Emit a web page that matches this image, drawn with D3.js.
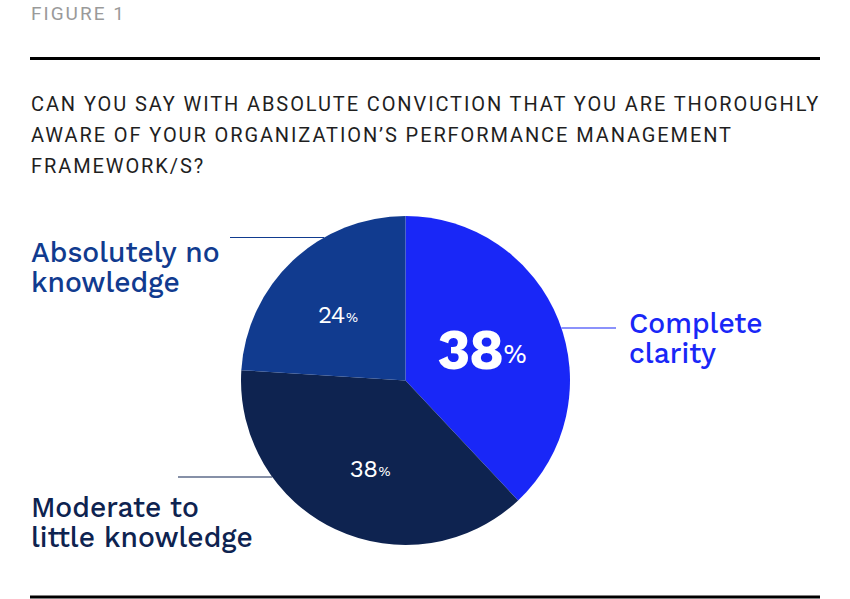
<!DOCTYPE html>
<html><head><meta charset="utf-8">
<script src="https://cdn.jsdelivr.net/npm/d3@7"></script>
<style>
html,body{margin:0;padding:0;background:#fff;}
svg{display:block;}
</style></head>
<body>
<svg id="chart" width="850" height="599"></svg>
<script>
const categories = ["Complete clarity", "Moderate to little knowledge", "Absolutely no knowledge"];
const values = [38, 38, 24];
const valueLabels = ["38", "38", "24"];
const labelLines = [["Complete", "clarity"], ["Moderate to", "little knowledge"], ["Absolutely no", "knowledge"]];
const colors = ["#1927f7", "#0e2350", "#113b8f"];
const figureLabel = "FIGURE 1";
const questionLines = [
  "CAN YOU SAY WITH ABSOLUTE CONVICTION THAT YOU ARE THOROUGHLY",
  "AWARE OF YOUR ORGANIZATION\u2019S PERFORMANCE MANAGEMENT",
  "FRAMEWORK/S?"
];

const svg = d3.select("#chart");
const cx = 405.5, cy = 380.5, R = 164.5;

// header
svg.append("text").attr("x", 31).attr("y", 20)
  .attr("font-family", "Roboto, 'Liberation Sans', sans-serif")
  .attr("font-size", 19).attr("fill", "#9a9a9a").attr("letter-spacing", 2)
  .text(figureLabel);
svg.append("line").attr("x1", 30).attr("x2", 820).attr("y1", 58.5).attr("y2", 58.5)
  .attr("stroke", "#000").attr("stroke-width", 3);
svg.append("line").attr("x1", 30).attr("x2", 820).attr("y1", 597).attr("y2", 597)
  .attr("stroke", "#000").attr("stroke-width", 3);

const q = svg.append("text")
  .attr("font-family", "Roboto, 'Liberation Sans', sans-serif")
  .attr("font-size", 20).attr("fill", "#1f1f1f").attr("letter-spacing", 1.9);
questionLines.forEach((t, i) => {
  q.append("tspan").attr("x", 31).attr("y", 111 + i * 31).text(t);
});

// pie
const pie = d3.pie().sort(null).value(d => d)(values);
const arc = d3.arc().innerRadius(0).outerRadius(R);
const g = svg.append("g").attr("transform", `translate(${cx},${cy})`);
g.selectAll("path").data(pie).join("path")
  .attr("d", arc).attr("fill", (d, i) => colors[i]);

// value labels
const labelR = [0.5, 0.58, 0.57];
const labelShift = [0, -0.06, -0.05];
const fontBig = [56, 24, 24];
const fontPct = [27, 14, 14];
pie.forEach((d, i) => {
  const mid = (d.startAngle + d.endAngle) / 2 + labelShift[i];
  const rr = R * labelR[i];
  const x = Math.sin(mid) * rr, y = -Math.cos(mid) * rr;
  const t = g.append("text").attr("x", x).attr("y", y)
    .attr("text-anchor", "middle").attr("dominant-baseline", "central")
    .attr("font-family", "'Work Sans', Inter, 'Open Sans', sans-serif")
    .attr("fill", "#fff");
  t.append("tspan").attr("font-size", fontBig[i]).attr("font-weight", i === 0 ? 700 : 400)
    .attr("letter-spacing", i === 0 ? -1.5 : -0.5).text(valueLabels[i]);
  t.append("tspan").attr("font-size", fontPct[i]).attr("dx", 1).attr("dy", i === 0 ? 4 : 2).text("%");
});

// callout labels
const callouts = [
  {y: 328, side: "right", textX: 629, base: 333},
  {y: 477, side: "left", lineStart: 178, textX: 31, base: 517},
  {y: 237.5, side: "left", lineStart: 230, textX: 31, base: 262}
];
callouts.forEach((c, i) => {
  const dy = c.y - cy;
  const edge = Math.sqrt(R * R - dy * dy);
  if (c.side === "right") {
    svg.append("line").attr("x1", cx + edge).attr("x2", 616).attr("y1", c.y).attr("y2", c.y)
      .attr("stroke", colors[i]).attr("stroke-width", 1.2);
  } else {
    svg.append("line").attr("x1", c.lineStart).attr("x2", cx - edge).attr("y1", c.y).attr("y2", c.y)
      .attr("stroke", colors[i]).attr("stroke-width", 1.2);
  }
  const t = svg.append("text")
    .attr("font-family", "'Work Sans', Inter, 'Open Sans', sans-serif")
    .attr("font-size", 28.2).attr("font-weight", 500).attr("fill", colors[i]);
  labelLines[i].forEach((s, j) => {
    t.append("tspan").attr("x", c.textX).attr("y", c.base + j * 29.5).text(s);
  });
});
</script>
</body></html>
